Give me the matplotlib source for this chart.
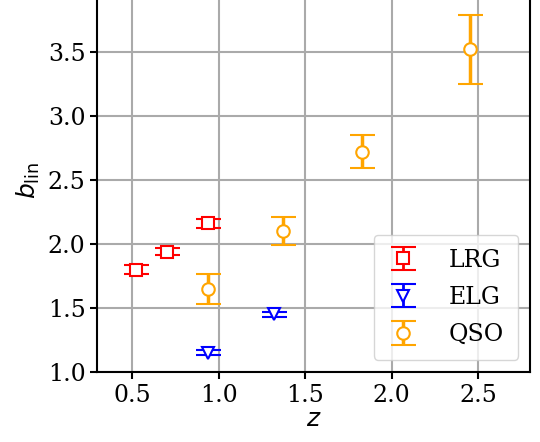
import matplotlib
matplotlib.use("Agg")
import matplotlib.pyplot as plt

plt.rcParams["font.family"] = ["DejaVu Serif"]
plt.rcParams["mathtext.fontset"] = "dejavusans"

# linear bias per tracer
lrg_z = [0.52, 0.70, 0.94]
lrg_b = [1.80, 1.94, 2.16]
lrg_err = [0.033, 0.030, 0.033]

elg_z = [0.94, 1.32]
elg_b = [1.15, 1.45]
elg_err = [0.02, 0.02]

qso_z = [0.94, 1.37, 1.83, 2.45]
qso_b = [1.645, 2.10, 2.72, 3.52]
qso_err = [0.117, 0.108, 0.13, 0.27]

fig = plt.figure(figsize=(5.4, 4.42), dpi=100)
ax = fig.add_axes([0.1805, 0.1584, 0.8015, 0.869])

ax.errorbar(lrg_z, lrg_b, yerr=lrg_err, fmt="s", color="red", mfc="white",
            mec="red", ms=9, mew=1.5, capsize=9, elinewidth=2, capthick=2,
            label="LRG", zorder=3)
ax.errorbar(elg_z, elg_b, yerr=elg_err, fmt="v", color="blue", mfc="white",
            mec="blue", ms=9, mew=1.5, capsize=9, elinewidth=2, capthick=2,
            label="ELG", zorder=3)
ax.errorbar(qso_z, qso_b, yerr=qso_err, fmt="o", color="orange", mfc="white",
            mec="orange", ms=9, mew=1.5, capsize=9, elinewidth=2.5, capthick=2.5,
            label="QSO", zorder=3)

ax.set_xlim(0.3, 2.8)
ax.set_ylim(1.0, 4.0)
ax.set_xticks([0.5, 1.0, 1.5, 2.0, 2.5])
ax.set_yticks([1.0, 1.5, 2.0, 2.5, 3.0, 3.5])
ax.tick_params(labelsize=17, length=5, width=1.5)
for s in ax.spines.values():
    s.set_linewidth(1.5)
ax.grid(True, color="#aaaaaa", lw=1.5)
ax.set_axisbelow(True)
ax.set_xlabel("$z$", fontsize=18, labelpad=1)
ax.set_ylabel(r"$b_{\rm lin}$", fontsize=18, labelpad=4)
ax.legend(loc="lower right", fontsize=17, handlelength=1.3, handletextpad=1.3,
          borderpad=0.6, labelspacing=0.6, borderaxespad=0.5)

fig.savefig("out.png", dpi=100)
